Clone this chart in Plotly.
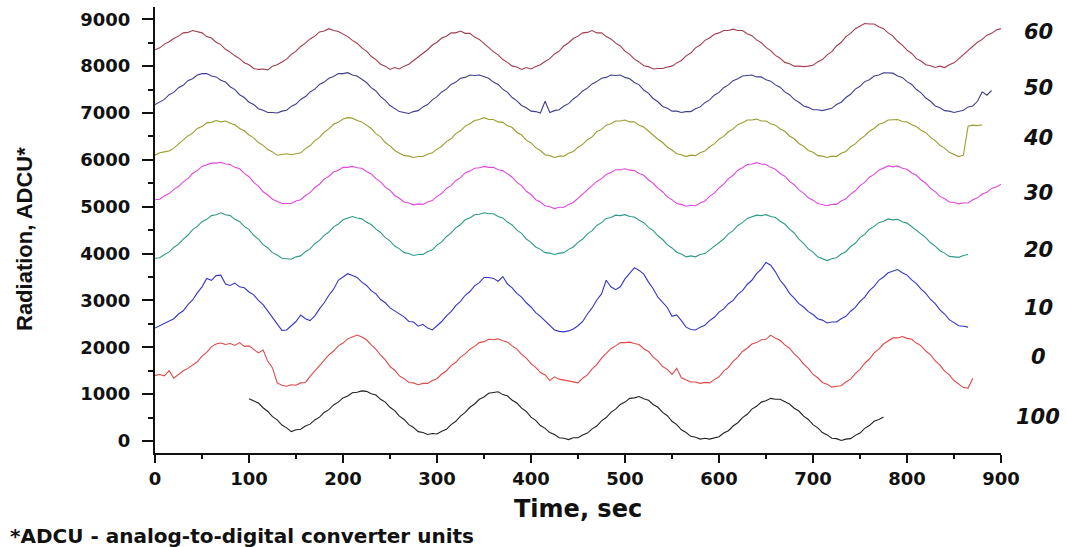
import plotly.graph_objects as go

# ---- data (time step 5 s) ----
STEP = 5
S60_START = 0
S60 = [8350,8390,8470,8520,8590,8640,8710,8720,8760,8740,
       8710,8630,8600,8510,8460,8360,8300,8220,8160,8070,
       8030,7950,7930,7940,7920,8000,8030,8090,8150,8250,
       8320,8420,8490,8580,8640,8730,8750,8800,8760,8740,
       8680,8630,8550,8490,8390,8320,8210,8140,8040,8000,
       7930,7970,7940,8000,8040,8120,8180,8280,8350,8450,
       8510,8600,8640,8710,8710,8750,8700,8700,8620,8570,
       8480,8410,8310,8240,8140,8080,8000,7980,7930,7970,
       7940,7990,8030,8100,8160,8260,8320,8430,8500,8590,
       8640,8710,8720,8760,8710,8710,8630,8580,8490,8430,
       8320,8250,8150,8090,8010,7990,7940,7950,7950,7980,
       8000,8070,8120,8220,8280,8390,8450,8550,8600,8680,
       8710,8760,8760,8790,8760,8760,8690,8650,8560,8500,
       8400,8330,8230,8170,8080,8050,8000,8000,7990,8000,
       8020,8090,8140,8240,8310,8430,8510,8630,8700,8800,
       8850,8910,8900,8900,8840,8800,8710,8640,8530,8450,
       8340,8270,8160,8110,8030,8010,7970,8000,7970,8030,
       8070,8160,8230,8340,8410,8510,8570,8660,8700,8770,
       8800]

S50_START = 0
S50 = [7180,7240,7290,7390,7440,7540,7590,7690,7730,7810,
       7840,7840,7790,7770,7700,7660,7560,7500,7390,7330,
       7230,7180,7090,7060,7010,7010,7000,7040,7060,7140,
       7190,7290,7350,7450,7510,7610,7660,7740,7780,7840,
       7840,7860,7810,7790,7710,7650,7540,7470,7350,7270,
       7160,7100,7030,7010,6990,7030,7050,7130,7180,7280,
       7350,7450,7510,7610,7660,7740,7760,7810,7800,7810,
       7770,7740,7660,7610,7510,7440,7330,7260,7160,7110,
       7040,7030,7000,7250,7010,7050,7070,7150,7200,7300,
       7370,7470,7530,7620,7670,7740,7760,7810,7800,7810,
       7760,7730,7650,7600,7490,7420,7310,7240,7140,7100,
       7040,7040,7010,7030,7030,7090,7130,7220,7280,7380,
       7440,7540,7600,7690,7730,7790,7800,7810,7770,7770,
       7710,7680,7600,7550,7450,7390,7290,7230,7150,7120,
       7070,7070,7050,7080,7100,7180,7230,7330,7400,7510,
       7570,7670,7710,7790,7810,7860,7850,7850,7790,7760,
       7670,7610,7500,7430,7320,7250,7150,7110,7050,7040,
       7010,7040,7060,7130,7150,7250,7450,7380,7480]

S40_START = 0
S40 = [6100,6150,6170,6190,6250,6340,6410,6510,6570,6670,
       6710,6790,6800,6840,6810,6830,6780,6750,6670,6620,
       6530,6470,6370,6310,6220,6170,6100,6110,6130,6110,
       6130,6150,6240,6300,6410,6480,6590,6660,6760,6800,
       6870,6900,6890,6840,6810,6730,6670,6560,6490,6370,
       6300,6200,6150,6090,6080,6050,6070,6070,6120,6150,
       6230,6290,6390,6450,6560,6620,6720,6770,6840,6860,
       6900,6860,6860,6810,6800,6730,6690,6590,6530,6420,
       6360,6260,6200,6110,6090,6050,6080,6080,6140,6180,
       6270,6330,6430,6490,6600,6650,6740,6770,6830,6830,
       6850,6810,6810,6740,6700,6610,6540,6440,6370,6270,
       6210,6130,6110,6070,6100,6090,6150,6190,6280,6340,
       6440,6500,6600,6660,6750,6790,6850,6850,6870,6830,
       6830,6770,6740,6660,6610,6510,6450,6350,6290,6200,
       6160,6090,6080,6050,6080,6070,6140,6180,6280,6340,
       6440,6510,6610,6670,6760,6790,6850,6850,6860,6820,
       6810,6750,6710,6630,6580,6480,6410,6310,6250,6160,
       6120,6070,6100,6720,6740,6730,6750]

S30_START = 0
S30 = [5150,5160,5230,5280,5370,5430,5530,5600,5710,5770,
       5860,5890,5930,5930,5950,5910,5900,5840,5810,5710,
       5640,5520,5440,5320,5250,5160,5120,5070,5070,5070,
       5120,5150,5240,5300,5410,5480,5590,5650,5740,5780,
       5840,5840,5860,5830,5820,5750,5700,5600,5530,5420,
       5350,5240,5180,5100,5080,5040,5060,5050,5100,5130,
       5220,5280,5390,5450,5560,5620,5720,5760,5820,5830,
       5860,5840,5840,5790,5770,5690,5630,5520,5450,5330,
       5260,5150,5100,5020,5000,4960,4990,4990,5050,5090,
       5180,5250,5360,5430,5540,5600,5690,5730,5790,5790,
       5810,5780,5770,5710,5670,5570,5500,5390,5320,5210,
       5150,5070,5050,5010,5030,5020,5080,5120,5220,5290,
       5400,5480,5600,5670,5780,5830,5900,5910,5940,5910,
       5900,5840,5800,5710,5650,5540,5470,5360,5290,5190,
       5140,5070,5050,5020,5050,5050,5120,5170,5270,5340,
       5450,5520,5630,5690,5780,5820,5870,5850,5870,5820,
       5800,5720,5670,5570,5500,5390,5320,5220,5170,5100,
       5090,5060,5080,5080,5150,5190,5270,5310,5390,5420,
       5480]

S20_START = 0
S20 = [3900,3910,3980,4030,4130,4200,4310,4390,4510,4580,
       4680,4730,4810,4830,4870,4830,4810,4730,4680,4580,
       4510,4390,4310,4190,4120,4020,3970,3900,3890,3880,
       3930,3950,4040,4100,4210,4280,4390,4460,4570,4630,
       4720,4750,4790,4760,4740,4670,4620,4520,4450,4340,
       4270,4160,4100,4020,4000,3960,3980,3980,4040,4080,
       4180,4250,4360,4440,4550,4620,4720,4760,4830,4840,
       4870,4850,4850,4790,4760,4670,4610,4500,4430,4310,
       4240,4140,4090,4020,4010,3980,4010,4020,4090,4140,
       4240,4310,4420,4490,4600,4660,4750,4770,4820,4810,
       4830,4790,4780,4710,4660,4560,4490,4380,4300,4190,
       4120,4030,3990,3930,3950,3930,3980,4000,4080,4140,
       4240,4310,4420,4490,4600,4660,4750,4780,4820,4810,
       4830,4790,4770,4690,4630,4520,4440,4310,4220,4100,
       4030,3930,3890,3850,3890,3910,3990,4040,4150,4220,
       4340,4410,4520,4580,4660,4690,4740,4720,4730,4680,
       4650,4570,4510,4410,4340,4230,4160,4060,4010,3940,
       3930,3920,3960,3980]

S10_START = 0
S10 = [2410,2460,2510,2570,2610,2710,2780,2910,3010,3160,
       3290,3470,3430,3530,3540,3350,3320,3370,3290,3270,
       3180,3120,3000,2910,2770,2650,2490,2360,2370,2470,
       2550,2690,2610,2570,2670,2820,2950,3110,3240,3430,
       3510,3570,3530,3490,3390,3320,3210,3140,3020,2950,
       2840,2780,2720,2650,2550,2540,2450,2490,2410,2370,
       2460,2550,2670,2760,2890,2980,3110,3190,3310,3380,
       3490,3490,3470,3410,3510,3350,3270,3150,3070,2950,
       2860,2740,2660,2560,2480,2370,2340,2330,2350,2390,
       2460,2550,2710,2840,3010,3140,3430,3290,3230,3290,
       3460,3590,3700,3640,3560,3390,3250,3070,2970,2850,
       2660,2690,2570,2430,2380,2370,2430,2470,2570,2640,
       2750,2820,2930,3000,3130,3210,3340,3430,3570,3670,
       3810,3750,3610,3430,3310,3150,3050,2930,2860,2760,
       2700,2610,2580,2520,2540,2540,2610,2660,2770,2850,
       2980,3070,3210,3300,3430,3500,3590,3620,3660,3590,
       3540,3440,3360,3240,3150,3020,2930,2800,2710,2590,
       2530,2460,2450,2430]

S0_START = 0
S0 = [1400,1420,1390,1500,1340,1420,1500,1550,1630,1690,
      1810,1890,2010,2070,2090,2060,2080,2040,2100,2020,
      2030,1950,1880,1940,1700,1560,1240,1190,1170,1200,
      1190,1240,1250,1380,1490,1620,1710,1840,1920,2030,
      2090,2180,2220,2260,2220,2160,2050,1960,1830,1730,
      1590,1510,1390,1330,1250,1240,1200,1230,1230,1290,
      1330,1430,1500,1610,1680,1790,1860,1960,2020,2100,
      2120,2170,2160,2180,2140,2110,2030,1960,1850,1770,
      1650,1570,1460,1410,1290,1370,1320,1300,1290,1270,
      1240,1340,1410,1540,1630,1770,1860,1970,2030,2100,
      2100,2110,2080,2060,1970,1910,1790,1710,1590,1530,
      1420,1550,1350,1310,1260,1260,1230,1250,1240,1310,
      1370,1490,1570,1700,1790,1910,1980,2070,2100,2160,
      2170,2260,2190,2150,2050,1980,1860,1770,1640,1550,
      1420,1350,1250,1210,1150,1170,1180,1260,1320,1440,
      1530,1660,1750,1880,1960,2070,2130,2200,2200,2230,
      2190,2170,2090,2030,1920,1840,1710,1620,1490,1410,
      1290,1220,1140,1130,1340]

S100_START = 100
S100 = [900,850,810,710,630,520,450,340,280,200,
        240,250,320,360,450,510,610,670,770,830,
        920,960,1030,1040,1070,1060,1010,980,890,830,
        720,650,530,460,350,290,200,180,140,160,
        150,210,250,350,420,530,610,720,790,890,
        940,1020,1040,1050,990,960,870,810,700,630,
        510,440,330,270,180,140,70,60,30,70,
        70,130,170,260,320,430,500,610,680,780,
        830,910,920,950,900,870,780,720,610,540,
        420,350,240,180,100,80,40,60,40,70,
        90,170,220,320,390,500,570,680,740,830,
        860,910,890,890,840,790,700,640,530,460,
        350,280,180,130,60,50,10,40,50,120,
        170,270,330,420,460,510]

SERIES_NAMES = ["60", "50", "40", "30", "20", "10", "0", "100"]
LABEL_Y = [8720, 7530, 6470, 5290, 4070, 2840, 1790, 510]
COLORS = ["#a23c4c", "#3f3f90", "#9c9c30", "#e048e0", "#2e9a88", "#3535c8", "#e04848", "#222222"]

X_TICKS = [0, 100, 200, 300, 400, 500, 600, 700, 800, 900]
Y_TICKS = [0, 1000, 2000, 3000, 4000, 5000, 6000, 7000, 8000, 9000]

series = [(S60_START, S60), (S50_START, S50), (S40_START, S40), (S30_START, S30),
          (S20_START, S20), (S10_START, S10), (S0_START, S0), (S100_START, S100)]

fig = go.Figure()
for (start, vals), name, col in zip(series, SERIES_NAMES, COLORS):
    xs = [start + STEP * i for i in range(len(vals))]
    fig.add_trace(go.Scatter(x=xs, y=vals, mode="lines", name=name,
                             line=dict(color=col, width=1.1), showlegend=False))

L, R, T, B = 155, 66, 7, 94
W, H = 1067, 547
pw, ph = W - L - R, H - T - B

def px_x(p):
    return (p - L) / pw

def px_y(p):
    return (H - B - p) / ph

tickfont = dict(family="DejaVu Sans", size=18, color="#111", weight="bold")

fig.update_layout(
    width=W, height=H,
    margin=dict(l=L, r=R, t=T, b=B, pad=0),
    plot_bgcolor="white", paper_bgcolor="white",
    xaxis=dict(range=[0, 900], tickvals=X_TICKS, ticktext=[str(v) for v in X_TICKS],
               showgrid=False, zeroline=False, showline=True, linecolor="#111", linewidth=2,
               ticks="outside", ticklen=8, tickwidth=2, tickcolor="#111",
               minor=dict(ticks="outside", ticklen=4, tickwidth=2, tickcolor="#111", dtick=50, tick0=0, showgrid=False),
               tickfont=tickfont),
    yaxis=dict(range=[-256, 9262], tickvals=Y_TICKS, ticktext=[str(v) for v in Y_TICKS],
               showgrid=False, zeroline=False, showline=True, linecolor="#111", linewidth=2,
               ticks="outside", ticklen=11, tickwidth=2, tickcolor="#111",
               minor=dict(ticks="outside", ticklen=5, tickwidth=2, tickcolor="#111", dtick=500, tick0=0, showgrid=False),
               tickfont=tickfont, ticklabelstandoff=8),
)

ann = []
for name, yv in zip(SERIES_NAMES, LABEL_Y):
    ann.append(dict(xref="paper", yref="y", x=px_x(1038), y=yv, text=name, showarrow=False,
                    xanchor="center", yanchor="middle",
                    font=dict(family="DejaVu Sans", size=21, color="#111", weight="bold", style="italic")))
ann.append(dict(xref="paper", yref="paper", x=px_x(578), y=px_y(509), text="Time, sec", showarrow=False,
                xanchor="center", yanchor="middle",
                font=dict(family="DejaVu Sans", size=24, color="#111", weight="bold")))
ann.append(dict(xref="paper", yref="paper", x=px_x(25), y=px_y(239), text="Radiation, ADCU*", showarrow=False,
                xanchor="center", yanchor="middle", textangle=-90,
                font=dict(family="Liberation Sans", size=22, color="#111", weight="bold")))
ann.append(dict(xref="paper", yref="paper", x=px_x(8), y=px_y(536), text="*ADCU - analog-to-digital converter units",
                showarrow=False, xanchor="left", yanchor="middle",
                font=dict(family="DejaVu Sans", size=20, color="#111", weight="bold")))
fig.update_layout(annotations=ann)

fig.write_html("out.html")
